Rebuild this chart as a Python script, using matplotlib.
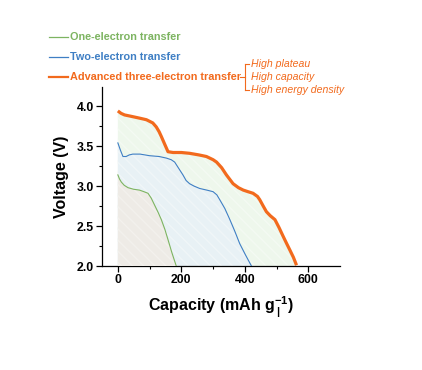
import matplotlib
matplotlib.use("Agg")
import matplotlib.pyplot as plt
from matplotlib.lines import Line2D

plt.rcParams['font.family'] = ['Liberation Sans', 'DejaVu Sans']
plt.rcParams['mathtext.fontset'] = 'custom'
plt.rcParams['mathtext.rm'] = 'Liberation Sans:bold'
plt.rcParams['mathtext.bf'] = 'Liberation Sans:bold'
plt.rcParams['hatch.linewidth'] = 1.0

# Data (capacity mAh/g, voltage V)
three_cap = [0, 10, 21, 45, 68, 90, 110, 121, 130, 137, 148, 158, 174, 200, 226, 255, 279, 300, 311, 327, 342, 363, 380, 395, 410, 426, 440, 447, 458, 468, 480, 495, 508, 521, 532, 542, 553, 563]
three_v   = [3.94, 3.91, 3.89, 3.87, 3.85, 3.83, 3.79, 3.74, 3.68, 3.62, 3.52, 3.43, 3.42, 3.42, 3.41, 3.39, 3.37, 3.33, 3.30, 3.23, 3.14, 3.03, 2.98, 2.95, 2.93, 2.91, 2.87, 2.83, 2.75, 2.68, 2.63, 2.58, 2.48, 2.37, 2.28, 2.20, 2.11, 2.01]

two_cap = [0, 8, 16, 26, 36, 47, 70, 100, 130, 153, 168, 179, 192, 205, 215, 226, 240, 258, 280, 300, 312, 321, 337, 353, 368, 384, 402, 421]
two_v   = [3.54, 3.45, 3.37, 3.37, 3.39, 3.40, 3.40, 3.38, 3.37, 3.35, 3.33, 3.30, 3.22, 3.14, 3.07, 3.03, 3.00, 2.97, 2.95, 2.93, 2.89, 2.83, 2.72, 2.58, 2.44, 2.28, 2.14, 2.00]

one_cap = [0, 5, 11, 20, 32, 50, 68, 82, 95, 105, 116, 127, 137, 148, 158, 170, 184]
one_v   = [3.14, 3.09, 3.05, 3.01, 2.98, 2.96, 2.95, 2.93, 2.91, 2.85, 2.76, 2.67, 2.58, 2.46, 2.33, 2.17, 2.00]

legend_labels = ['One-electron transfer', 'Two-electron transfer', 'Advanced three-electron transfer']
features = ['High plateau', 'High capacity', 'High energy density']

c_one, c_two, c_three = '#7db461', '#3f7fc4', '#f26a1d'

fig = plt.figure(figsize=(4.22, 3.70), dpi=100)
ax = fig.add_axes([0.2417, 0.281, 0.564, 0.484])

ax.fill_between(three_cap, three_v, 0, facecolor='#eef7ec', edgecolor='#f4faf3', hatch='\\\\\\', linewidth=0, zorder=1)
ax.fill_between(two_cap, two_v, 0, facecolor='#e8f1f5', edgecolor='#f0f6f8', hatch='\\\\\\', linewidth=0, zorder=2)
ax.fill_between(one_cap, one_v, 0, facecolor='#eeebe6', edgecolor='#f3f1ed', hatch='\\\\\\', linewidth=0, zorder=3)

ax.plot(one_cap, one_v, color=c_one, lw=0.8, zorder=5)
ax.plot(two_cap, two_v, color=c_two, lw=0.8, zorder=5)
ax.plot(three_cap, three_v, color=c_three, lw=2.3, zorder=6, solid_capstyle='butt')

ax.set_xlim(-50, 700)
ax.set_ylim(2.0, 4.24)
ax.set_xticks([0, 200, 400, 600])
ax.set_xticks([100, 300, 500], minor=True)
ax.set_yticks([2.0, 2.5, 3.0, 3.5, 4.0])
ax.set_yticks([2.25, 2.75, 3.25, 3.75], minor=True)
ax.set_yticklabels(['2.0', '2.5', '3.0', '3.5', '4.0'])
ax.spines['top'].set_visible(False)
ax.spines['right'].set_visible(False)
for s in ('left', 'bottom'):
    ax.spines[s].set_linewidth(0.9)
ax.tick_params(which='major', direction='out', length=4, width=0.9, labelsize=8.8, pad=2)
ax.tick_params(which='minor', direction='out', length=2.5, width=0.8)
for lab in ax.get_xticklabels() + ax.get_yticklabels():
    lab.set_fontweight('bold')

ax.set_ylabel('Voltage (V)', fontsize=11.5, fontweight='bold', labelpad=5)
ax.set_xlabel(r'Capacity (mAh g$^{-1}_{\,|}$)', fontsize=11.5, fontweight='bold', labelpad=6)

# custom legend
ys = [37, 57, 77]
cols = [c_one, c_two, c_three]
lws = [0.9, 0.9, 1.6]
W, H = 422, 370
for lab, y, c, lw in zip(legend_labels, ys, cols, lws):
    fig.add_artist(Line2D([49 / W, 68 / W], [1 - y / H, 1 - y / H], color=c, lw=lw))
    fig.text(70 / W, 1 - y / H, lab, color=c, fontsize=7.8, fontweight='bold', va='center', ha='left')

# bracket
bc = c_three
fig.add_artist(Line2D([240 / W, 245 / W], [1 - 77 / H, 1 - 77 / H], color=bc, lw=0.8))
fig.add_artist(Line2D([245 / W, 245 / W], [1 - 64 / H, 1 - 90 / H], color=bc, lw=0.8))
for y in (64, 90):
    fig.add_artist(Line2D([245 / W, 249 / W], [1 - y / H, 1 - y / H], color=bc, lw=0.8))
for t, y in zip(features, [64, 77, 90]):
    fig.text(251 / W, 1 - y / H, t, color=bc, fontsize=7.6, style='italic', va='center', ha='left')

fig.savefig('out.png', dpi=100)
